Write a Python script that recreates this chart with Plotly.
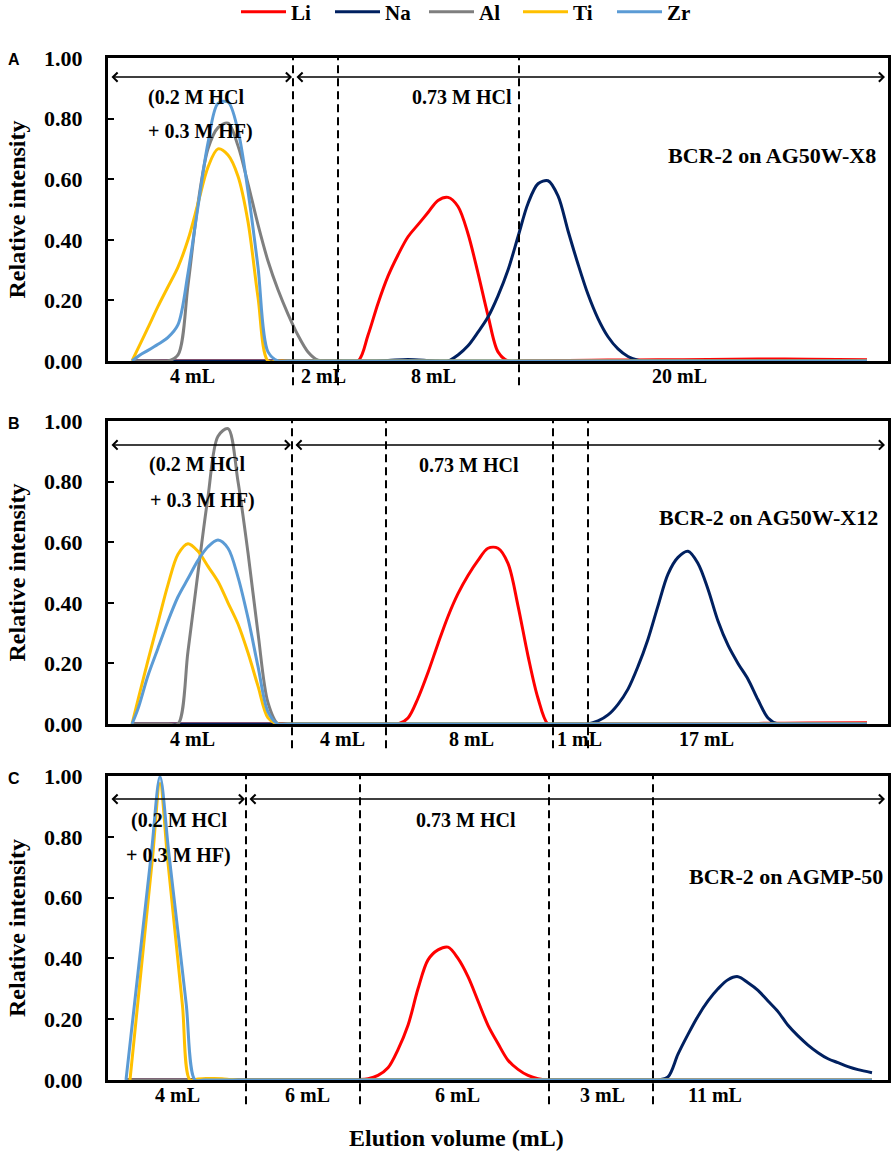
import plotly.graph_objects as go

# ---------------- data (x = elution position along each panel's fraction axis) ----------------
elements = ["Li", "Na", "Al", "Ti", "Zr"]

# Panel A : BCR-2 on AG50W-X8
A_Li_x = [2.5, 5, 8, 11, 14, 17, 20, 23, 25, 26, 27, 28, 29, 30, 31, 32, 33, 34, 35, 36, 37, 38, 39, 40, 41, 43, 46, 50, 55, 60, 65, 70, 75.9]
A_Li = [0, 0, 0, 0, 0, 0, 0, 0, 0, 0.085, 0.19, 0.28, 0.35, 0.41, 0.45, 0.49, 0.53, 0.54, 0.51, 0.42, 0.29, 0.15, 0.03, 0, 0, 0.001, 0.002, 0.003, 0.004, 0.005, 0.007, 0.006, 0.004]
A_Na_x = [2.5, 5, 8, 11, 14, 17, 20, 23, 26, 28, 30, 32, 33, 34, 35, 36, 37, 38, 39, 40, 41, 42, 43, 44, 45, 46, 47, 48, 49, 50, 51, 52, 53, 54, 55, 57, 60, 64, 68, 72, 75.9]
A_Na = [0, 0, 0, 0, 0, 0, 0, 0, 0, 0.002, 0.005, 0.002, 0, 0, 0.02, 0.05, 0.095, 0.145, 0.215, 0.30, 0.41, 0.52, 0.585, 0.595, 0.545, 0.43, 0.32, 0.22, 0.14, 0.08, 0.04, 0.015, 0.003, 0, 0, 0, 0, 0, 0, 0, 0]
A_Al_x = [2.5, 3, 4, 5, 6, 7, 8, 9, 10, 11, 12, 13, 14, 15, 16, 17, 18, 19, 20, 21, 22, 23, 25, 28, 32, 37, 43, 50, 57, 64, 70, 75.9]
A_Al = [0, 0, 0, 0, 0, 0.02, 0.25, 0.52, 0.70, 0.77, 0.785, 0.71, 0.585, 0.45, 0.33, 0.235, 0.155, 0.085, 0.03, 0.003, 0, 0, 0, 0, 0, 0, 0, 0, 0, 0, 0, 0]
A_Ti_x = [2.4, 3.2, 4, 5, 6, 7, 8, 9, 10, 11, 12, 13, 14, 15, 16, 17, 18, 20, 23, 27, 32, 38, 45, 52, 60, 68, 75.9]
A_Ti = [0, 0.055, 0.11, 0.18, 0.245, 0.31, 0.40, 0.52, 0.64, 0.70, 0.68, 0.61, 0.46, 0.21, 0, 0, 0, 0, 0, 0, 0, 0, 0, 0, 0, 0, 0]
A_Zr_x = [2.4, 3.2, 4, 5, 6, 7, 8, 9, 10, 11, 12, 13, 14, 15, 16, 17, 18, 20, 23, 27, 32, 38, 45, 52, 60, 68, 75.9]
A_Zr = [0, 0.02, 0.035, 0.055, 0.078, 0.12, 0.29, 0.51, 0.72, 0.85, 0.855, 0.76, 0.56, 0.31, 0.03, 0, 0, 0, 0, 0, 0, 0, 0, 0, 0, 0, 0]

# Panel B : BCR-2 on AG50W-X12
B_Li_x = [2.5, 5, 8, 11, 14, 17, 20, 23, 26, 28, 29, 30, 31, 32, 33, 34, 35, 36, 37, 38, 39, 40, 41, 42, 43, 44, 45, 47, 50, 55, 60, 65, 70, 75.9]
B_Li = [0, 0, 0, 0, 0, 0, 0, 0, 0, 0, 0, 0.02, 0.085, 0.17, 0.265, 0.355, 0.43, 0.49, 0.54, 0.58, 0.58, 0.53, 0.39, 0.225, 0.085, 0, 0, 0, 0.001, 0.001, 0.002, 0.002, 0.003, 0.004]
B_Na_x = [2.5, 6, 10, 14, 18, 22, 26, 30, 34, 38, 41, 44, 46, 47, 48, 49, 50, 51, 52, 53, 54, 55, 56, 57, 58, 59, 60, 61, 62, 63, 64, 65, 66, 67, 68, 70, 73, 75.9]
B_Na = [0, 0, 0, 0, 0, 0, 0, 0, 0, 0, 0, 0, 0, 0, 0, 0.01, 0.03, 0.065, 0.115, 0.19, 0.28, 0.39, 0.495, 0.55, 0.57, 0.53, 0.445, 0.34, 0.26, 0.20, 0.148, 0.08, 0.02, 0, 0, 0, 0, 0]
B_Al_x = [2.5, 3, 4, 5, 6, 7, 8, 9, 10, 11, 12, 13, 14, 15, 16, 17, 18, 20, 23, 27, 32, 38, 45, 52, 60, 68, 75.9]
B_Al = [0, 0, 0, 0, 0, 0, 0.24, 0.50, 0.75, 0.95, 0.975, 0.80, 0.565, 0.30, 0.07, 0, 0, 0, 0, 0, 0, 0, 0, 0, 0, 0, 0]
B_Ti_x = [2.4, 3, 4, 5, 6, 7, 8, 9, 10, 11, 12, 13, 14, 15, 16, 17, 18, 20, 23, 27, 32, 38, 45, 52, 60, 68, 75.9]
B_Ti = [0, 0.08, 0.21, 0.335, 0.46, 0.56, 0.595, 0.57, 0.52, 0.47, 0.40, 0.33, 0.235, 0.125, 0.02, 0, 0, 0, 0, 0, 0, 0, 0, 0, 0, 0, 0]
B_Zr_x = [2.4, 3, 4, 5, 6, 7, 8, 9, 10, 11, 12, 13, 14, 15, 16, 17, 18, 20, 23, 27, 32, 38, 45, 52, 60, 68, 75.9]
B_Zr = [0, 0.05, 0.16, 0.25, 0.34, 0.42, 0.48, 0.54, 0.585, 0.607, 0.58, 0.485, 0.35, 0.19, 0.04, 0, 0, 0, 0, 0, 0, 0, 0, 0, 0, 0, 0]

# Panel C : BCR-2 on AGMP-50
C_Li_x = [1.8, 5, 9, 13, 17, 20, 22, 24, 25, 26, 27, 28, 29, 30, 31, 32, 33, 34, 35, 36, 37, 38, 39, 40, 41, 42, 43, 44, 45, 47, 50, 54, 58, 62, 66, 70, 73, 76.4]
C_Li = [0, 0, 0, 0, 0, 0, 0, 0, 0.001, 0.004, 0.015, 0.04, 0.10, 0.18, 0.30, 0.395, 0.428, 0.437, 0.40, 0.34, 0.26, 0.18, 0.12, 0.065, 0.035, 0.015, 0.004, 0, 0, 0, 0, 0, 0, 0, 0, 0, 0, 0]
C_Na_x = [1.8, 6, 10, 15, 20, 25, 30, 35, 40, 45, 49, 52, 54, 55, 56, 57, 58, 59, 60, 61, 62, 63, 64, 65, 66, 67, 68, 69, 70, 71, 72, 73, 74, 75, 76.4]
C_Na = [0, 0, 0, 0, 0, 0, 0, 0, 0, 0, 0, 0, 0, 0, 0.01, 0.085, 0.15, 0.21, 0.26, 0.30, 0.33, 0.34, 0.32, 0.295, 0.26, 0.225, 0.18, 0.145, 0.115, 0.09, 0.07, 0.057, 0.044, 0.034, 0.024]
C_Al_x = [1.8, 10, 20, 30, 40, 50, 60, 70, 76.4]
C_Al = [0, 0, 0, 0, 0, 0, 0, 0, 0]
C_Ti_x = [2.2, 2.95, 3.7, 4.45, 5.2, 5.95, 6.7, 7.45, 8.2, 9.0, 9.8, 10.6, 11.4, 12.2, 13, 15, 18, 21, 25, 30, 36, 42, 48, 54, 60, 66, 72, 76.4]
C_Ti = [0, 0.244, 0.488, 0.731, 0.975, 0.731, 0.488, 0.244, 0, 0.003, 0.005, 0.005, 0.004, 0.002, 0, 0, 0, 0, 0, 0, 0, 0, 0, 0, 0, 0, 0, 0]
C_Zr_x = [1.8, 2.65, 3.5, 4.35, 5.2, 6.07, 6.95, 7.82, 8.7, 9.55, 10.4, 11.5, 13, 15, 18, 21, 25, 30, 36, 42, 48, 54, 60, 66, 72, 76.4]
C_Zr = [0, 0.25, 0.50, 0.75, 0.998, 0.75, 0.50, 0.25, 0, 0, 0, 0, 0, 0, 0, 0, 0, 0, 0, 0, 0, 0, 0, 0, 0, 0]

# segment boundaries (dashed lines) and segment volume labels
A_bounds = [18.5, 23.0, 41.1]
B_bounds = [18.4, 27.8, 44.5, 48.0]
C_bounds = [13.8, 25.2, 44.1, 54.5]
A_seg_labels = ["4 mL", "2 mL", "8 mL", "20 mL"]
A_seg_pos = [8.4, 21.5, 32.5, 57.1]
B_seg_labels = ["4 mL", "4 mL", "8 mL", "1 mL", "17 mL"]
B_seg_pos = [8.4, 23.4, 36.3, 47.1, 59.8]
C_seg_labels = ["4 mL", "6 mL", "6 mL", "3 mL", "11 mL"]
C_seg_pos = [6.9, 19.9, 34.9, 49.4, 60.7]

panel_titles = ["BCR-2 on AG50W-X8", "BCR-2 on AG50W-X12", "BCR-2 on AGMP-50"]
panel_letters = ["A", "B", "C"]
y_ticks = [0, 0.2, 0.4, 0.6, 0.8, 1.0]

# ---------------- styling ----------------
colors = {"Li": "#FF0000", "Na": "#002060", "Al": "#7F7F7F", "Ti": "#FFC000", "Zr": "#5B9BD5"}
SERIF = "Liberation Serif"
W, H = 893, 1156
ML, MR, MT, MB = 108, 5, 40, 0
PW, PH = W - ML - MR, H - MT - MB


def px_x(px):
    return (px - ML) / PW


def px_y(py):
    return (H - MB - py) / PH


panels = [
    dict(data={"Li": (A_Li_x, A_Li), "Na": (A_Na_x, A_Na), "Al": (A_Al_x, A_Al), "Ti": (A_Ti_x, A_Ti), "Zr": (A_Zr_x, A_Zr)},
         bounds=A_bounds, seg_labels=A_seg_labels, seg_pos=A_seg_pos, top=58, bottom=361,
         arrow_y=0.937, text_y=(0.871, 0.756), acid1_x=(8.8, 9.2), acid2_x=35.4, title_xy=(77.0, 0.677)),
    dict(data={"Li": (B_Li_x, B_Li), "Na": (B_Na_x, B_Na), "Al": (B_Al_x, B_Al), "Ti": (B_Ti_x, B_Ti), "Zr": (B_Zr_x, B_Zr)},
         bounds=B_bounds, seg_labels=B_seg_labels, seg_pos=B_seg_pos, top=421, bottom=724,
         arrow_y=0.921, text_y=(0.855, 0.739), acid1_x=(8.9, 9.4), acid2_x=36.1, title_xy=(77.2, 0.680)),
    dict(data={"Li": (C_Li_x, C_Li), "Na": (C_Na_x, C_Na), "Al": (C_Al_x, C_Al), "Ti": (C_Ti_x, C_Ti), "Zr": (C_Zr_x, C_Zr)},
         bounds=C_bounds, seg_labels=C_seg_labels, seg_pos=C_seg_pos, top=776, bottom=1080,
         arrow_y=0.924, text_y=(0.855, 0.740), acid1_x=(7.1, 7.0), acid2_x=35.8, title_xy=(77.7, 0.668)),
]

fig = go.Figure()
annotations = []
shapes = []

for i, p in enumerate(panels):
    n = i + 1
    xa = "x" if n == 1 else f"x{n}"
    ya = "y" if n == 1 else f"y{n}"
    for el in elements:
        xs, ys = p["data"][el]
        fig.add_trace(go.Scatter(
            x=xs, y=ys, mode="lines", name=el, legendgroup=el, showlegend=(n == 1),
            line=dict(color=colors[el], width=3, shape="spline", smoothing=0.9),
            xaxis=xa, yaxis=ya, hoverinfo="skip"))
    dom = [px_y(p["bottom"]), px_y(p["top"])]
    axis_x = dict(domain=[0, 1], range=[0, 78], showticklabels=False, ticks="", showgrid=False,
                  zeroline=False, showline=True, mirror=True, linecolor="black", linewidth=3,
                  anchor=ya, automargin=False)
    axis_y = dict(domain=dom, range=[0, 1], tickvals=y_ticks, tickformat=".2f", ticks="inside",
                  ticklen=6, tickwidth=1.5, tickcolor="black", showgrid=False, zeroline=False,
                  showline=True, mirror=True, linecolor="black", linewidth=3, anchor=xa,
                  ticklabelstandoff=18, automargin=False,
                  tickfont=dict(family=SERIF, size=22, color="black", weight="bold"),
                  title=dict(text="Relative intensity", standoff=12,
                             font=dict(family=SERIF, size=24, color="black", weight="bold")))
    fig.update_layout(**{("xaxis" if n == 1 else f"xaxis{n}"): axis_x,
                         ("yaxis" if n == 1 else f"yaxis{n}"): axis_y})

    # dashed segment boundaries
    for b in p["bounds"]:
        shapes.append(dict(type="line", xref=xa, yref=f"{ya} domain", x0=b, x1=b, y0=-0.08, y1=1,
                           line=dict(color="black", width=2, dash="8px,5px")))
    # segment labels below axis
    for lab, pos in zip(p["seg_labels"], p["seg_pos"]):
        annotations.append(dict(text=lab, x=pos, y=0, xref=xa, yref=f"{ya} domain", yanchor="top",
                                yshift=-2, showarrow=False,
                                font=dict(family=SERIF, size=20, color="black", weight="bold")))
    # double-headed arrows for eluent sections
    b0 = p["bounds"][0]
    for x0, x1 in [(0.2, b0 - 0.1), (b0 + 0.2, 77.7)]:
        annotations.append(dict(text="", x=x1, y=p["arrow_y"], ax=x0, ay=p["arrow_y"],
                                xref=xa, yref=ya, axref=xa, ayref=ya, showarrow=True,
                                arrowhead=4, startarrowhead=4, arrowside="end+start",
                                arrowsize=1.2, startarrowsize=1.2, arrowwidth=1.5,
                                arrowcolor="black", standoff=0, startstandoff=0))
    tf = dict(family=SERIF, size=20, color="black", weight="bold")
    annotations.append(dict(text="(0.2 M HCl", x=p["acid1_x"][0], y=p["text_y"][0], xref=xa, yref=ya,
                            showarrow=False, font=tf))
    annotations.append(dict(text="+ 0.3 M HF)", x=p["acid1_x"][1], y=p["text_y"][1], xref=xa, yref=ya,
                            showarrow=False, font=tf))
    annotations.append(dict(text="0.73 M HCl", x=p["acid2_x"], y=p["text_y"][0], xref=xa, yref=ya,
                            showarrow=False, font=tf))
    annotations.append(dict(text=panel_titles[i], x=p["title_xy"][0], y=p["title_xy"][1], xref=xa,
                            yref=ya, xanchor="right", showarrow=False,
                            font=dict(family=SERIF, size=22, color="black", weight="bold")))
    # panel letter
    annotations.append(dict(text=panel_letters[i], x=px_x(14), y=px_y(p["top"] + 2),
                            xref="paper", yref="paper", xanchor="center", yanchor="middle",
                            showarrow=False,
                            font=dict(family="Liberation Sans", size=16, color="black", weight="bold")))

annotations.append(dict(text="Elution volume (mL)", x=px_x(456), y=px_y(1138),
                        xref="paper", yref="paper", xanchor="center", yanchor="middle",
                        showarrow=False,
                        font=dict(family=SERIF, size=24, color="black", weight="bold")))

fig.update_layout(
    width=W, height=H,
    margin=dict(l=ML, r=MR, t=MT, b=MB, autoexpand=False),
    paper_bgcolor="white", plot_bgcolor="white",
    showlegend=True,
    legend=dict(orientation="h", xref="container", yref="container",
                x=236 / W, xanchor="left", y=1 - 12 / H, yanchor="middle",
                itemwidth=45, entrywidth=34, entrywidthmode="pixels",
                font=dict(family=SERIF, size=21, color="black", weight="bold"),
                bgcolor="rgba(0,0,0,0)"),
    annotations=annotations,
    shapes=shapes,
)

fig.write_html("out.html", config={"displayModeBar": False},
               post_script="document.body.style.margin='0';")
